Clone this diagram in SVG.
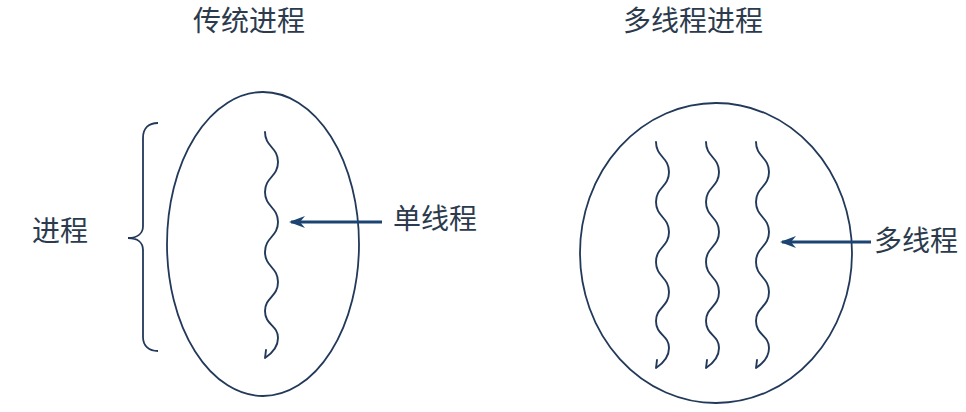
<svg xmlns="http://www.w3.org/2000/svg" width="966" height="412" viewBox="0 0 966 412">
  <style>
    .shape { fill: none; stroke: #22395a; stroke-width: 1.8; }
    .thread { fill: none; stroke: #22395a; stroke-width: 1.9; stroke-linecap: round; stroke-linejoin: round; }
    .arrow { fill: none; stroke: #1b4472; stroke-width: 3; }
    .label { font-family: "Noto Sans CJK SC", "Noto Sans", sans-serif; font-size: 28px; fill: #2b3b4d; }
  </style>
  <defs>
    <marker id="ah" viewBox="0 0 16 12" refX="14" refY="6" markerWidth="16" markerHeight="12" markerUnits="userSpaceOnUse" orient="auto">
      <path d="M16 6 L0 0 L5 6 L0 12 Z" fill="#1b4472"/>
    </marker>
    <path id="wave" d="M0 0 C0 15 13 15 13 30 C13 45 0 45 0 60 C0 75 13 75 13 90 C13 105 0 105 0 120 C0 135 13 135 13 150 C13 165 0 165 0 179 C0 193 13 193 13 206 C13 216 6 222 0 226 M0 226 L1 218"/>
  </defs>

  <g id="title-traditional"><text class="label" x="193" y="31">传统进程</text></g>
  <g id="title-multi"><text class="label" x="623" y="31">多线程进程</text></g>

  <g id="brace"><path class="shape" d="M158 123 C149 123 143 128 143 138 L143 226 C143 233 138 238 128 238 C138 238 143 243 143 250 L143 337 C143 346 149 351 158 351"/></g>
  <g id="label-process"><text class="label" x="32" y="241">进程</text></g>

  <g id="process-traditional">
    <ellipse class="shape" cx="263" cy="244" rx="96" ry="152"/>
    <use href="#wave" class="thread" x="265" y="132"/>
  </g>

  <g id="process-multi">
    <ellipse class="shape" cx="716" cy="253" rx="136" ry="150"/>
    <use href="#wave" class="thread" x="656" y="142"/>
    <use href="#wave" class="thread" x="706" y="142"/>
    <use href="#wave" class="thread" x="756" y="142"/>
  </g>

  <g id="connectors">
    <line class="arrow" x1="382" y1="222" x2="291" y2="222" marker-end="url(#ah)"/>
    <line class="arrow" x1="871" y1="242" x2="782" y2="242" marker-end="url(#ah)"/>
  </g>

  <g id="label-single"><text class="label" x="393" y="229">单线程</text></g>
  <g id="label-multithread"><text class="label" x="874" y="251">多线程</text></g>
</svg>
